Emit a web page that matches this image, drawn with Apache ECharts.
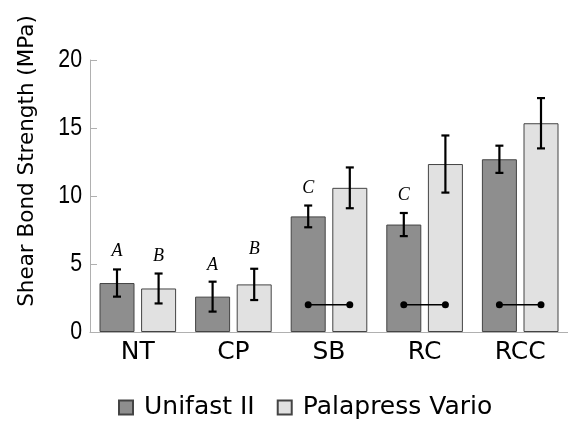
<!DOCTYPE html>
<html><head><meta charset="utf-8">
<script src="https://cdn.jsdelivr.net/npm/echarts@6/dist/echarts.min.js"></script>
<style>html,body{margin:0;padding:0;background:#fff}#c{width:568px;height:422px}</style>
</head><body><div id="c"></div>
<script>
const categories = ['NT', 'CP', 'SB', 'RC', 'RCC'];
const seriesNames = ['Unifast II', 'Palapress Vario'];
const unifastMean = [3.6, 2.6, 8.5, 7.9, 12.7];
const unifastSD = [1.0, 1.1, 0.8, 0.85, 1.0];
const palapressMean = [3.2, 3.5, 10.6, 12.35, 15.35];
const palapressSD = [1.1, 1.15, 1.5, 2.1, 1.85];
// significance letters: [categoryIndex, seriesIndex, letter, value-position]
const letters = [[0,0,'A',5.95],[0,1,'B',5.6],[1,0,'A',4.9],[1,1,'B',6.05],[2,0,'C',10.6],[3,0,'C',10.05]];
// connectors (no significant difference) at value 2
const connectorCats = [2, 3, 4];
const connectorValue = 2;
const yTicks = [0, 5, 10, 15, 20];
const yTitle = 'Shear Bond Strength (MPa)';

const BAR_W = 35, GAP = 6.6;
const OFF = (BAR_W + GAP) / 2;
const colors = ['#8e8e8e', '#e1e1e1'];

const chart = echarts.init(document.getElementById('c'));

function errSeries(means, sds, sign) {
  return {
    type: 'custom', z: 10,
    data: means.map((m, i) => [i, m, sds[i]]),
    renderItem: (params, api) => {
      const i = api.value(0), m = api.value(1), s = api.value(2);
      const top = api.coord([i, m + s]);
      const bot = api.coord([i, m - s]);
      const x = top[0] + sign * OFF;
      const cap = 4;
      return { type: 'group', children: [
        { type: 'line', shape: { x1: x, y1: top[1], x2: x, y2: bot[1] }, style: { stroke: '#000', lineWidth: 2.2 } },
        { type: 'line', shape: { x1: x - cap, y1: top[1], x2: x + cap, y2: top[1] }, style: { stroke: '#000', lineWidth: 2.2 } },
        { type: 'line', shape: { x1: x - cap, y1: bot[1], x2: x + cap, y2: bot[1] }, style: { stroke: '#000', lineWidth: 2.2 } }
      ]};
    }
  };
}

chart.setOption({
  animation: false,
  grid: { left: 90, right: -10, top: 60, bottom: 90 },
  legend: {
    data: seriesNames, left: 113, top: 390, icon: 'rect',
    itemWidth: 14, itemHeight: 14, itemGap: 22,
    textStyle: { fontFamily: 'DejaVu Sans', fontSize: 25, color: '#000', padding: [0, 0, 0, 6] }
  },
  xAxis: {
    type: 'category', data: categories,
    axisLine: { lineStyle: { color: '#b0b0b0', width: 1 } },
    axisTick: { inside: true, length: 7, lineStyle: { color: '#b0b0b0' } },
    axisLabel: { fontFamily: 'DejaVu Sans', fontSize: 25, color: '#000', margin: 8 }
  },
  yAxis: {
    type: 'value', min: yTicks[0], max: yTicks[yTicks.length - 1], interval: 5,
    axisLine: { show: true, lineStyle: { color: '#b0b0b0', width: 1 } },
    axisTick: { show: true, inside: true, length: 7, lineStyle: { color: '#b0b0b0' } },
    splitLine: { show: false },
    axisLabel: { show: false }
  },
  series: [
    { name: seriesNames[0], type: 'bar', data: unifastMean, barWidth: BAR_W, barGap: (GAP / BAR_W * 100) + '%',
      itemStyle: { color: colors[0], borderColor: '#444', borderWidth: 1 } },
    { name: seriesNames[1], type: 'bar', data: palapressMean, barWidth: BAR_W,
      itemStyle: { color: colors[1], borderColor: '#444', borderWidth: 1 } },
    errSeries(unifastMean, unifastSD, -1),
    errSeries(palapressMean, palapressSD, 1),
    { type: 'custom', z: 11,
      data: connectorCats.map(c => [c, connectorValue]),
      renderItem: (params, api) => {
        const p = api.coord([api.value(0), api.value(1)]);
        const x1 = p[0] - OFF, x2 = p[0] + OFF;
        return { type: 'group', children: [
          { type: 'line', shape: { x1, y1: p[1], x2, y2: p[1] }, style: { stroke: '#000', lineWidth: 1.5 } },
          { type: 'circle', shape: { cx: x1, cy: p[1], r: 3.5 }, style: { fill: '#000' } },
          { type: 'circle', shape: { cx: x2, cy: p[1], r: 3.5 }, style: { fill: '#000' } }
        ]};
      }
    },
    { type: 'custom', z: 12,
      data: letters.map(l => [l[0], l[3], l[1]]),
      renderItem: (params, api) => {
        const p = api.coord([api.value(0), api.value(1)]);
        const sign = api.value(2) === 0 ? -1 : 1;
        return { type: 'text', x: p[0] + sign * OFF, y: p[1],
          style: { text: letters[params.dataIndex][2], font: 'italic 18px "Liberation Serif"', fill: '#000', textAlign: 'center', textVerticalAlign: 'middle' } };
      }
    }
  ]
});

// Y tick labels drawn as condensed text at positions from the library's value scale
const tickGraphics = yTicks.map(v => ({
  type: 'text',
  x: 82,
  y: chart.convertToPixel({ yAxisIndex: 0 }, v),
  scaleX: 0.82,
  style: { text: String(v), font: '26px "Liberation Sans"', fill: '#000', textAlign: 'right', textVerticalAlign: 'middle' }
}));
chart.setOption({
  graphic: [{
    type: 'text', x: 27, y: 161, rotation: Math.PI / 2,
    style: { text: yTitle, font: '21.5px "DejaVu Sans"', fill: '#000', textAlign: 'center', textVerticalAlign: 'middle' }
  }].concat(tickGraphics)
});
</script></body></html>
